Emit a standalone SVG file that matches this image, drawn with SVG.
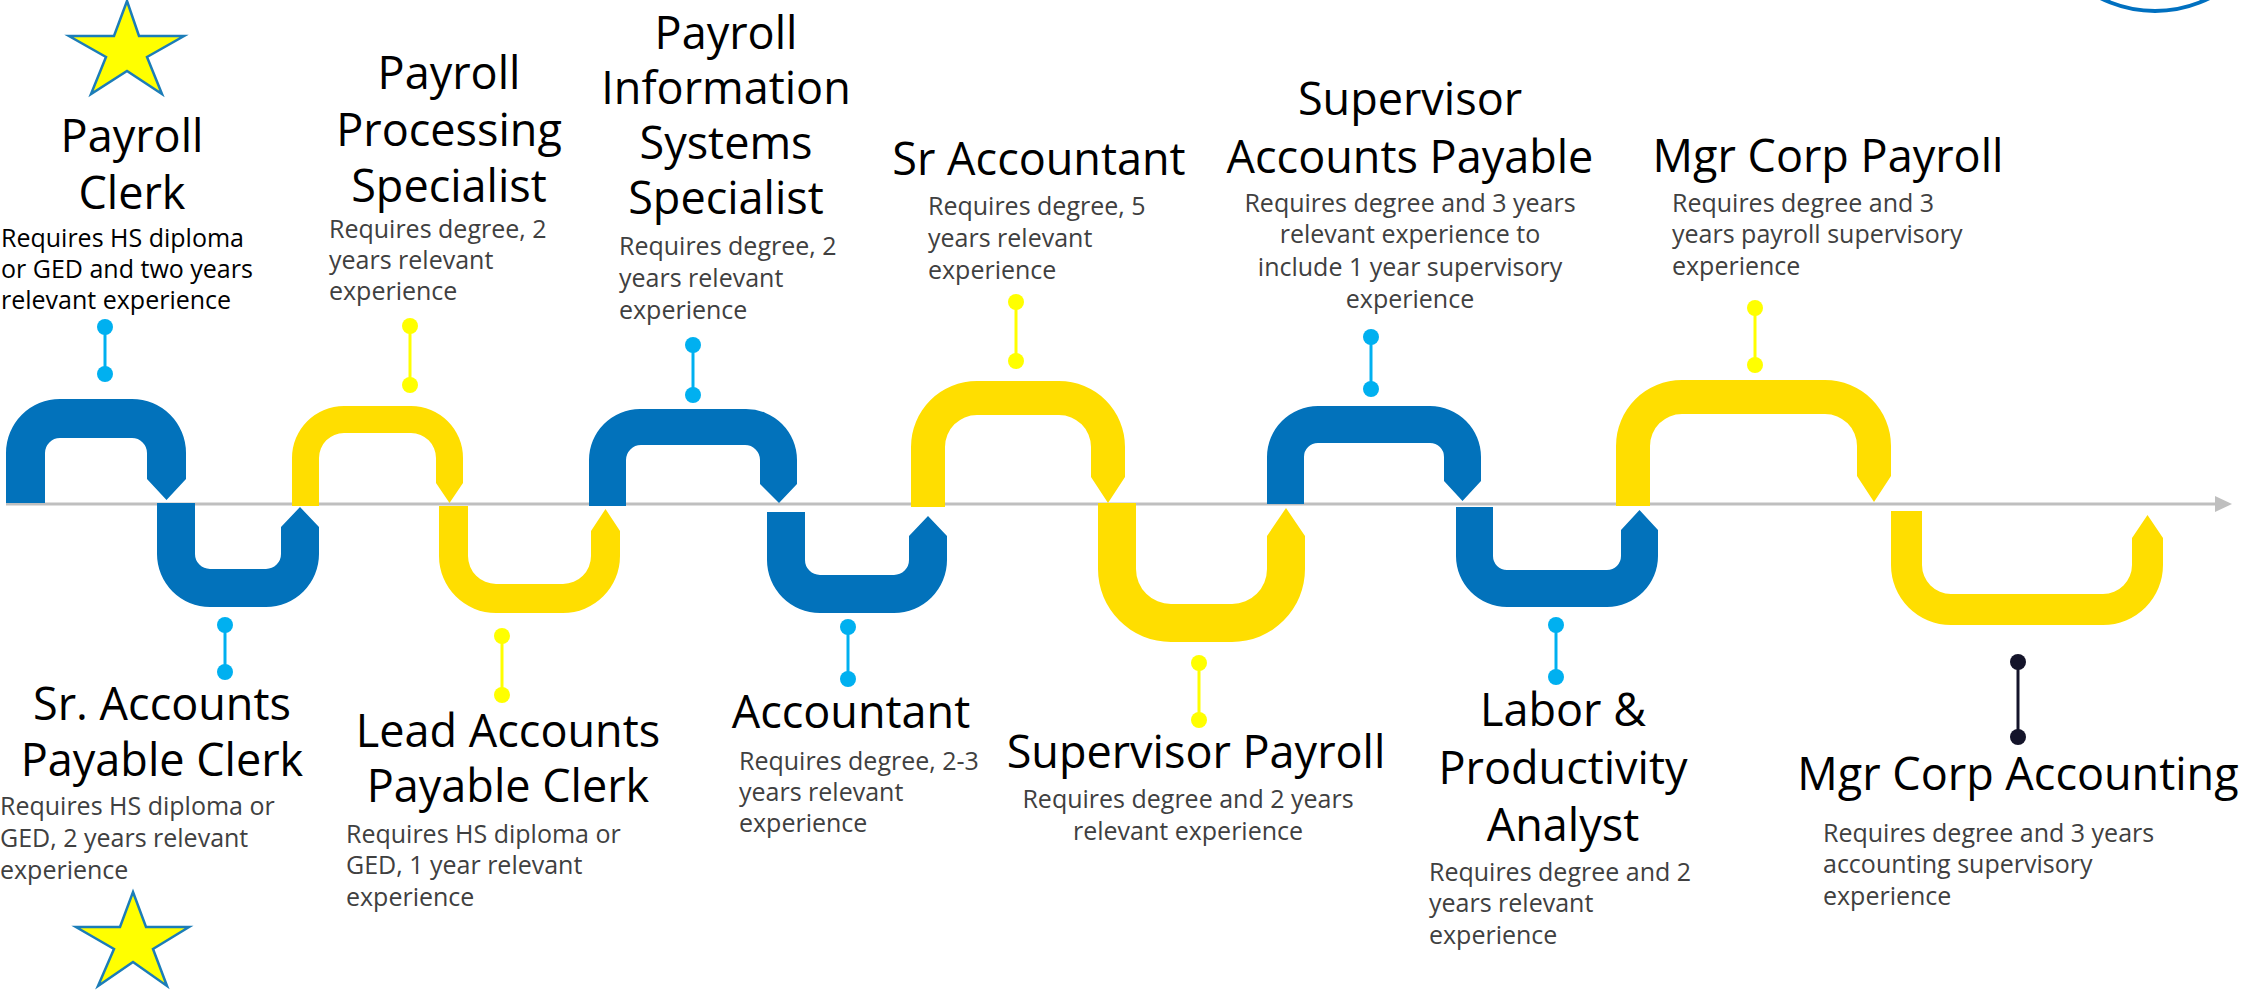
<svg xmlns="http://www.w3.org/2000/svg" width="2242" height="990" viewBox="0 0 2242 990">
<style>
.t{font-family:"Open Sans","Noto Sans",sans-serif;font-size:45px;fill:#000;text-anchor:middle}
.d{font-family:"Open Sans","Noto Sans",sans-serif;font-size:25px;fill:#404040}
.dc{text-anchor:middle}
.k{fill:#000}
.b{fill:#0272BB}
.y{fill:#FFDE00}
.pb{stroke:#00B0F0;fill:#00B0F0}
.py{stroke:#FFFF00;fill:#FFFF00}
.pk{stroke:#14142A;fill:#14142A}
.pin line{stroke-width:3}
.pin circle{stroke:none}
.star{fill:#FFFF00;stroke:#1C7DB8;stroke-width:2.5}
</style>
<rect width="2242" height="990" fill="#fff"/>
<circle cx="2155" cy="-110" r="121" fill="none" stroke="#0070C0" stroke-width="4"/>
<g id="connectors">
<line x1="6" y1="504" x2="2217" y2="504" stroke="#BFBFBF" stroke-width="3"/>
<polygon points="2215,496 2232,504 2215,512" fill="#BFBFBF"/>
</g>
<g id="star-top"><polygon class="star" points="127,1 139,36 184,36 147,57 162,94 127,71 91,94 106,57 69,36 114,36"/></g>
<g id="star-bottom"><polygon class="star" points="133,892 146,927 189,927 153,949 167,986 133,962 98,986 114,949 76,927 120,927"/></g>

<g id="payroll-clerk">
<path class="b" d="M6,503 L6,453 A54,54 0 0 1 60,399 L132,399 A54,54 0 0 1 186,453 L186,479 L166.5,500 L147,479 L147,453 A15,15 0 0 0 132,438 L60,438 A15,15 0 0 0 45,453 L45,503 Z"/>
<g class="pin pb"><line x1="105" y1="327" x2="105" y2="374"/><circle cx="105" cy="327" r="8"/><circle cx="105" cy="374" r="8"/></g>
<text class="t" x="132" y="152">Payroll</text>
<text class="t" x="132" y="209">Clerk</text>
<text class="d k" x="1"><tspan x="1" y="247">Requires HS diploma</tspan><tspan x="1" y="278">or GED and two years</tspan><tspan x="1" y="309">relevant experience</tspan></text>
</g>

<g id="sr-accounts-payable-clerk">
<path class="b" d="M157,503 L195,503 L195,554 A15,15 0 0 0 210,569 L266,569 A15,15 0 0 0 281,554 L281,527 L300,507 L319,527 L319,554 A53,53 0 0 1 266,607 L210,607 A53,53 0 0 1 157,554 Z"/>
<g class="pin pb"><line x1="225" y1="625" x2="225" y2="672"/><circle cx="225" cy="625" r="8"/><circle cx="225" cy="672" r="8"/></g>
<text class="t" x="162" y="720">Sr. Accounts</text>
<text class="t" x="162" y="776">Payable Clerk</text>
<text class="d"><tspan x="0" y="815">Requires HS diploma or</tspan><tspan x="0" y="847">GED, 2 years relevant</tspan><tspan x="0" y="879">experience</tspan></text>
</g>

<g id="payroll-processing-specialist">
<path class="y" d="M292,506 L292,458 A52,52 0 0 1 344,406 L411,406 A52,52 0 0 1 463,458 L463,483 L449.5,503 L436,483 L436,458 A25,25 0 0 0 411,433 L344,433 A25,25 0 0 0 319,458 L319,506 Z"/>
<g class="pin py"><line x1="410" y1="326" x2="410" y2="385"/><circle cx="410" cy="326" r="8"/><circle cx="410" cy="385" r="8"/></g>
<text class="t" x="449" y="89">Payroll</text>
<text class="t" x="449" y="146">Processing</text>
<text class="t" x="449" y="202">Specialist</text>
<text class="d"><tspan x="329" y="238">Requires degree, 2</tspan><tspan x="329" y="269">years relevant</tspan><tspan x="329" y="300">experience</tspan></text>
</g>

<g id="lead-accounts-payable-clerk">
<path class="y" d="M439,506 L468,506 L468,556 A28,28 0 0 0 496,584 L563,584 A28,28 0 0 0 591,556 L591,531 L605.5,509 L620,531 L620,556 A57,57 0 0 1 563,613 L496,613 A57,57 0 0 1 439,556 Z"/>
<g class="pin py"><line x1="502" y1="636" x2="502" y2="695"/><circle cx="502" cy="636" r="8"/><circle cx="502" cy="695" r="8"/></g>
<text class="t" x="508" y="747">Lead Accounts</text>
<text class="t" x="508" y="802">Payable Clerk</text>
<text class="d"><tspan x="346" y="843">Requires HS diploma or</tspan><tspan x="346" y="874">GED, 1 year relevant</tspan><tspan x="346" y="906">experience</tspan></text>
</g>

<g id="payroll-information-systems-specialist">
<path class="b" d="M589,506 L589,460 A51,51 0 0 1 640,409 L746,409 A51,51 0 0 1 797,460 L797,484 L779,503 L760,484 L760,460 A15,15 0 0 0 745,445 L641,445 A15,15 0 0 0 626,460 L626,506 Z"/>
<g class="pin pb"><line x1="693" y1="345" x2="693" y2="395"/><circle cx="693" cy="345" r="8"/><circle cx="693" cy="395" r="8"/></g>
<text class="t" x="726" y="49">Payroll</text>
<text class="t" x="726" y="104">Information</text>
<text class="t" x="726" y="159">Systems</text>
<text class="t" x="726" y="214">Specialist</text>
<text class="d"><tspan x="619" y="255">Requires degree, 2</tspan><tspan x="619" y="287">years relevant</tspan><tspan x="619" y="319">experience</tspan></text>
</g>

<g id="accountant">
<path class="b" d="M767,512 L805,512 L805,560 A15,15 0 0 0 820,575 L894,575 A15,15 0 0 0 909,560 L909,536 L928,516 L947,536 L947,560 A53,53 0 0 1 894,613 L820,613 A53,53 0 0 1 767,560 Z"/>
<g class="pin pb"><line x1="848" y1="627" x2="848" y2="679"/><circle cx="848" cy="627" r="8"/><circle cx="848" cy="679" r="8"/></g>
<text class="t" x="851" y="728">Accountant</text>
<text class="d"><tspan x="739" y="770">Requires degree, 2-3</tspan><tspan x="739" y="801">years relevant</tspan><tspan x="739" y="832">experience</tspan></text>
</g>

<g id="sr-accountant">
<path class="y" d="M911,507 L911,447 A66,66 0 0 1 977,381 L1059,381 A66,66 0 0 1 1125,447 L1125,477 L1108,503 L1091,477 L1091,447 A32,32 0 0 0 1059,415 L977,415 A32,32 0 0 0 945,447 L945,507 Z"/>
<g class="pin py"><line x1="1016" y1="302" x2="1016" y2="361"/><circle cx="1016" cy="302" r="8"/><circle cx="1016" cy="361" r="8"/></g>
<text class="t" x="1039" y="175">Sr Accountant</text>
<text class="d"><tspan x="928" y="215">Requires degree, 5</tspan><tspan x="928" y="247">years relevant</tspan><tspan x="928" y="279">experience</tspan></text>
</g>

<g id="supervisor-payroll">
<path class="y" d="M1098,503 L1136,503 L1136,569 A35,35 0 0 0 1171,604 L1232,604 A35,35 0 0 0 1267,569 L1267,536 L1286,508 L1305,536 L1305,569 A73,73 0 0 1 1232,642 L1171,642 A73,73 0 0 1 1098,569 Z"/>
<g class="pin py"><line x1="1199" y1="663" x2="1199" y2="720"/><circle cx="1199" cy="663" r="8"/><circle cx="1199" cy="720" r="8"/></g>
<text class="t" x="1196" y="768">Supervisor Payroll</text>
<text class="d dc"><tspan x="1188" y="808">Requires degree and 2 years</tspan><tspan x="1188" y="840">relevant experience</tspan></text>
</g>

<g id="supervisor-accounts-payable">
<path class="b" d="M1267,504 L1267,457 A51,51 0 0 1 1318,406 L1430,406 A51,51 0 0 1 1481,457 L1481,481 L1462.5,501 L1444,481 L1444,457 A14,14 0 0 0 1430,443 L1318,443 A14,14 0 0 0 1304,457 L1304,504 Z"/>
<g class="pin pb"><line x1="1371" y1="337" x2="1371" y2="389"/><circle cx="1371" cy="337" r="8"/><circle cx="1371" cy="389" r="8"/></g>
<text class="t" x="1410" y="115">Supervisor</text>
<text class="t" x="1410" y="173">Accounts Payable</text>
<text class="d dc"><tspan x="1410" y="212">Requires degree and 3 years</tspan><tspan x="1410" y="243">relevant experience to</tspan><tspan x="1410" y="276">include 1 year supervisory</tspan><tspan x="1410" y="308">experience</tspan></text>
</g>

<g id="labor-productivity-analyst">
<path class="b" d="M1456,507 L1493,507 L1493,556 A14,14 0 0 0 1507,570 L1607,570 A14,14 0 0 0 1621,556 L1621,530 L1639.5,510 L1658,530 L1658,556 A51,51 0 0 1 1607,607 L1507,607 A51,51 0 0 1 1456,556 Z"/>
<g class="pin pb"><line x1="1556" y1="625" x2="1556" y2="677"/><circle cx="1556" cy="625" r="8"/><circle cx="1556" cy="677" r="8"/></g>
<text class="t" x="1563" y="726">Labor &amp;</text>
<text class="t" x="1563" y="784">Productivity</text>
<text class="t" x="1563" y="841">Analyst</text>
<text class="d"><tspan x="1429" y="881">Requires degree and 2</tspan><tspan x="1429" y="912">years relevant</tspan><tspan x="1429" y="944">experience</tspan></text>
</g>

<g id="mgr-corp-payroll">
<path class="y" d="M1616,506 L1616,446 A66,66 0 0 1 1682,380 L1825,380 A66,66 0 0 1 1891,446 L1891,476 L1874,502 L1857,476 L1857,446 A32,32 0 0 0 1825,414 L1682,414 A32,32 0 0 0 1650,446 L1650,506 Z"/>
<g class="pin py"><line x1="1755" y1="308" x2="1755" y2="365"/><circle cx="1755" cy="308" r="8"/><circle cx="1755" cy="365" r="8"/></g>
<text class="t" x="1828" y="172">Mgr Corp Payroll</text>
<text class="d"><tspan x="1672" y="212">Requires degree and 3</tspan><tspan x="1672" y="243">years payroll supervisory</tspan><tspan x="1672" y="275">experience</tspan></text>
</g>

<g id="mgr-corp-accounting">
<path class="y" d="M1891,511 L1922,511 L1922,565 A29,29 0 0 0 1951,594 L2103,594 A29,29 0 0 0 2132,565 L2132,538 L2147.5,515 L2163,538 L2163,565 A60,60 0 0 1 2103,625 L1951,625 A60,60 0 0 1 1891,565 Z"/>
<g class="pin pk"><line x1="2018" y1="662" x2="2018" y2="737"/><circle cx="2018" cy="662" r="8"/><circle cx="2018" cy="737" r="8"/></g>
<text class="t" x="2018" y="790">Mgr Corp Accounting</text>
<text class="d"><tspan x="1823" y="842">Requires degree and 3 years</tspan><tspan x="1823" y="873">accounting supervisory</tspan><tspan x="1823" y="905">experience</tspan></text>
</g>
</svg>
